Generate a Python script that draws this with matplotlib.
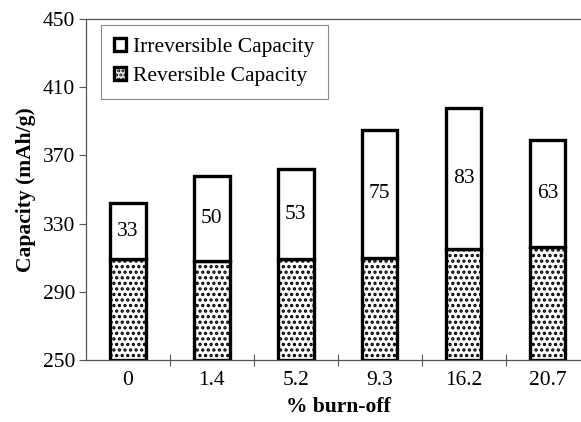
import matplotlib.pyplot as plt
import numpy as np
from matplotlib.patches import Patch

burn_off = ['0', '1.4', '5.2', '9.3', '16.2', '20.7']
reversible = [309, 308, 309, 310, 315, 316]
irreversible = [33, 50, 53, 75, 83, 63]

plt.rcParams['font.family'] = ['Liberation Serif', 'DejaVu Serif']
plt.rcParams['hatch.linewidth'] = 1.6

fig = plt.figure(figsize=(5.81, 4.22), dpi=100)
ax = fig.add_axes([0.148, 0.147, 0.867, 0.808])

fs = 15.5
x = np.arange(len(burn_off))
base = 250
width = 0.42
rev_h = np.array(reversible) - base
ax.bar(x, rev_h, width, bottom=base, color='white', edgecolor='black',
       hatch='...', linewidth=2.4, zorder=2)
ax.bar(x, irreversible, width, bottom=reversible, color='white',
       edgecolor='black', linewidth=2.4, zorder=2)

for xi, r, i in zip(x, reversible, irreversible):
    ax.text(xi, r + i / 2, str(i), ha='center', va='center', fontsize=fs, zorder=3)

ax.set_xlim(-0.5, len(burn_off) - 0.5)
ax.set_ylim(250, 450)
ax.set_yticks(np.arange(250, 451, 40))
ax.set_xticks(x)
ax.set_xticklabels(burn_off)
ax.set_xticks(np.arange(0.5, len(burn_off) - 0.5, 1), minor=True)
ax.tick_params(axis='x', which='major', length=0, labelsize=fs, pad=8)
ax.tick_params(axis='x', which='minor', length=9, direction='inout', width=0.8, color='#555555')
ax.tick_params(axis='y', length=5, width=0.8, color='#555555', labelsize=fs, pad=3)

for side in ['left', 'bottom', 'top']:
    ax.spines[side].set_linewidth(0.9)
    ax.spines[side].set_color('#555555')
ax.spines['right'].set_visible(False)

ax.set_xlabel('% burn-off', fontsize=fs, fontweight='bold', labelpad=5)
ax.set_ylabel('Capacity (mAh/g)', fontsize=fs, fontweight='bold', labelpad=5)

handles = [Patch(facecolor='white', edgecolor='black', linewidth=2.4, label='Irreversible Capacity'),
           Patch(facecolor='white', edgecolor='black', linewidth=2.4, hatch='....', label='Reversible Capacity')]
leg = ax.legend(handles=handles, loc='upper left', bbox_to_anchor=(0.03, 0.982),
                borderaxespad=0, fontsize=fs, fancybox=False, edgecolor='#888888',
                framealpha=1, handlelength=0.55, handleheight=0.55, handletextpad=0.35,
                labelspacing=0.45, borderpad=0.6)
leg.get_frame().set_linewidth(0.8)

fig.savefig('out.png', dpi=100)
